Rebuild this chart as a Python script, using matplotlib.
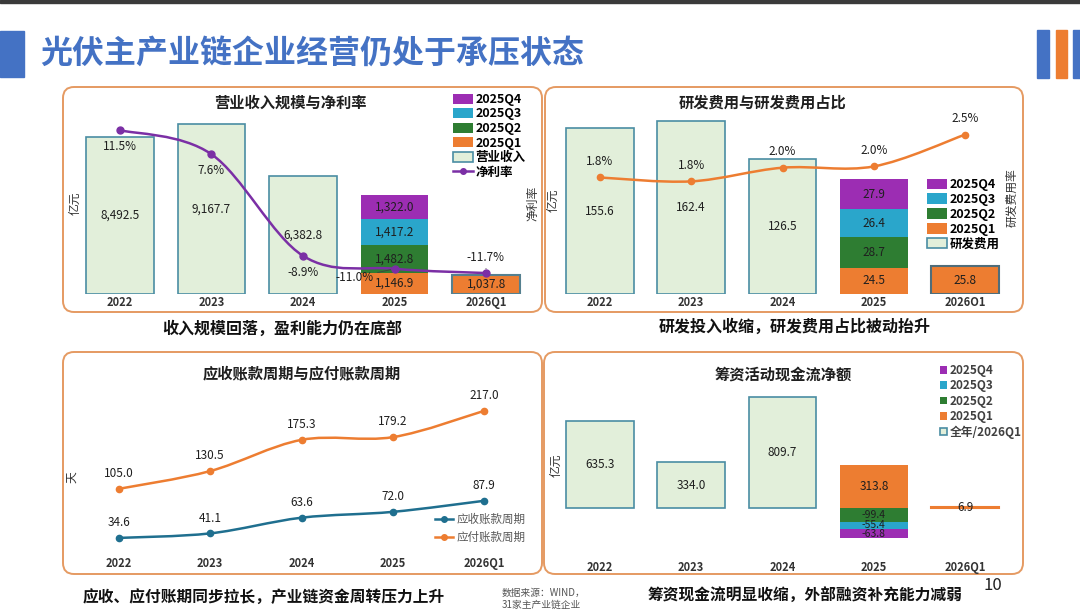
import numpy as np
import matplotlib
matplotlib.use("Agg")
import matplotlib.pyplot as plt
from matplotlib.patches import FancyBboxPatch, Rectangle, Patch, PathPatch
from matplotlib.lines import Line2D
from matplotlib.path import Path

plt.rcParams['font.family'] = ['Noto Sans CJK SC', 'DejaVu Sans']

W, H = 1080, 611

# ---- data ----
years = ['2022', '2023', '2024', '2025', '2026Q1']
years_rd = ['2022', '2023', '2024', '2025', '2026O1']
quarters = ['2025Q1', '2025Q2', '2025Q3', '2025Q4']

revenue_full = [8492.5, 9167.7, 6382.8]          # 亿元
revenue_q = [1146.9, 1482.8, 1417.2, 1322.0]     # 2025 Q1..Q4
revenue_2026q1 = 1037.8
net_margin = [11.5, 7.6, -8.9, -11.0, -11.7]     # %

rd_full = [155.6, 162.4, 126.5]
rd_q = [24.5, 28.7, 26.4, 27.9]
rd_2026q1 = 25.8
rd_ratio = [1.84, 1.78, 1.99, 2.01, 2.50]

ar_days = [34.6, 41.1, 63.6, 72.0, 87.9]
ap_days = [105.0, 130.5, 175.3, 179.2, 217.0]

fin_full = [635.3, 334.0, 809.7]
fin_q = [313.8, -99.4, -55.4, -63.8]
fin_2026q1 = 6.9

# ---- colours ----
C_FILL = '#E2EFDA'
C_EDGE = '#4A8DA3'
C_Q = ['#ED7D31', '#2E7D32', '#2AA6CB', '#9C2DB3']
C_PURPLE = '#7B2FA5'
C_ORANGE = '#ED7D31'
C_BLUE = '#1F6F8F'
C_BORDER = '#E59A62'
C_TXT = '#1f1f1f'

fig = plt.figure(figsize=(W / 100, H / 100), dpi=100)
fig.patch.set_facecolor('white')

bg = fig.add_axes([0, 0, 1, 1], zorder=-1)
bg.set_xlim(0, W)
bg.set_ylim(H, 0)
bg.axis('off')


def px_axes(x0, y0, x1, y1):
    ax = fig.add_axes([x0 / W, 1 - y1 / H, (x1 - x0) / W, (y1 - y0) / H])
    ax.set_facecolor('none')
    for s in ax.spines.values():
        s.set_visible(False)
    ax.set_yticks([])
    return ax


def style_x(ax, labels, pad):
    ax.set_xticks(np.arange(len(labels)), labels)
    ax.tick_params(axis='x', length=0, pad=pad, labelsize=8, labelcolor='#333333')
    for t in ax.get_xticklabels():
        t.set_fontweight('bold')
    ax.set_xlim(-0.5, len(labels) - 0.5)


def clean_twin(ax):
    for s in ax.spines.values():
        s.set_visible(False)
    ax.set_yticks([])


def smooth_line(ax, xs, ys, color, lw):
    # bezier curve through the points (Excel style smoothed line)
    pts = np.column_stack([xs, ys]).astype(float)
    ext = np.vstack([pts[0], pts, pts[-1]])
    verts = [pts[0]]
    codes = [Path.MOVETO]
    for i in range(len(pts) - 1):
        p0, p1, p2, p3 = ext[i], ext[i + 1], ext[i + 2], ext[i + 3]
        verts += [p1 + (p2 - p0) / 6, p2 - (p3 - p1) / 6, p2]
        codes += [Path.CURVE4] * 3
    ax.add_patch(PathPatch(Path(verts, codes), fc='none', ec=color, lw=lw, zorder=3))


def stacked(ax, xpos, vals, width, fmt, fs=8.5):
    pos, neg = 0.0, 0.0
    for v, c in zip(vals, C_Q):
        if v >= 0:
            b = pos
            pos += v
        else:
            b = neg
            neg += v
        ax.bar(xpos, v, bottom=b, width=width, color=c, lw=0)
        ax.text(xpos, b + v / 2, fmt.format(v), ha='center', va='center',
                fontsize=fs if v >= 0 else fs - 1, color=C_TXT)


def label_bars(ax, xs, vals, fmt):
    for x, v in zip(xs, vals):
        ax.text(x, v / 2, fmt.format(v), ha='center', va='center', fontsize=8.5, color=C_TXT)


# ---- header ----
bg.add_patch(Rectangle((0, 0), W, 2.5, color='#3a3a3a'))
bg.add_patch(Rectangle((0, 31), 24, 46, color='#4472C4'))
bg.add_patch(Rectangle((1037, 30), 12, 48, color='#4472C4'))
bg.add_patch(Rectangle((1056, 30), 11, 48, color=C_ORANGE))
bg.add_patch(Rectangle((1073, 30), 7, 48, color='#4472C4'))
bg.text(40, 54, '光伏主产业链企业经营仍处于承压状态', fontsize=23, fontweight='heavy',
        color='#4472C4', ha='left', va='center')

# panel frames
for (x0, y0, x1, y1) in [(63, 87, 542, 312), (545, 87, 1023, 312),
                         (63, 352, 542, 574), (544, 352, 1023, 574)]:
    bg.add_patch(FancyBboxPatch((x0, y0), x1 - x0, y1 - y0,
                                boxstyle='round,pad=0,rounding_size=11',
                                fc='none', ec=C_BORDER, lw=1.4))

# panel titles / captions
bg.text(290, 103, '营业收入规模与净利率', fontsize=11, fontweight='bold', ha='center', va='center', color=C_TXT)
bg.text(763, 103, '研发费用与研发费用占比', fontsize=11, fontweight='bold', ha='center', va='center', color=C_TXT)
bg.text(302, 374, '应收账款周期与应付账款周期', fontsize=11, fontweight='bold', ha='center', va='center', color=C_TXT)
bg.text(783, 375, '筹资活动现金流净额', fontsize=11, fontweight='bold', ha='center', va='center', color=C_TXT)

bg.text(282, 329, '收入规模回落，盈利能力仍在底部', fontsize=11.5, fontweight='bold', ha='center', va='center', color='#111111')
bg.text(795, 327, '研发投入收缩，研发费用占比被动抬升', fontsize=11.5, fontweight='bold', ha='center', va='center', color='#111111')
bg.text(264, 597, '应收、应付账期同步拉长，产业链资金周转压力上升', fontsize=11.3, fontweight='bold', ha='center', va='center', color='#111111')
bg.text(805, 596, '筹资现金流明显收缩，外部融资补充能力减弱', fontsize=11.3, fontweight='bold', ha='center', va='center', color='#111111')
bg.text(502, 593, '数据来源：WIND，', fontsize=7, ha='left', va='center', color='#555555')
bg.text(502, 605, '31家主产业链企业', fontsize=7, ha='left', va='center', color='#555555')
bg.text(993, 585, '10', fontsize=12, ha='center', va='center', color='#222222')

# axis titles
bg.text(75, 203, '亿元', fontsize=8.5, rotation=90, ha='center', va='center', color='#333333')
bg.text(533, 203, '净利率', fontsize=8.5, rotation=90, ha='center', va='center', color='#333333')
bg.text(553, 200, '亿元', fontsize=8.5, rotation=90, ha='center', va='center', color='#333333')
bg.text(1012, 198, '研发费用率', fontsize=8.5, rotation=90, ha='center', va='center', color='#333333')
bg.text(72, 477, '天', fontsize=8.5, rotation=90, ha='center', va='center', color='#333333')
bg.text(556, 465, '亿元', fontsize=8.5, rotation=90, ha='center', va='center', color='#333333')

x = np.arange(len(years))
bw = 0.74

# ---- panel 1: revenue & net margin ----
ax1 = px_axes(74, 100, 532, 294)
ax1.bar(x[:3], revenue_full, width=bw, color=C_FILL, edgecolor=C_EDGE, lw=1.2)
label_bars(ax1, x[:3], revenue_full, '{:,.1f}')
stacked(ax1, 3, revenue_q, bw, '{:,.1f}')
ax1.bar(4, revenue_2026q1, width=bw, color=C_ORANGE, edgecolor='#55808F', lw=1.5)
ax1.text(4, revenue_2026q1 / 2, f'{revenue_2026q1:,.1f}', ha='center', va='center', fontsize=8.5, color=C_TXT)
ax1.set_ylim(0, 10486)
style_x(ax1, years, 1.5)

ax1b = ax1.twinx()
ax1b.set_ylim(-15.1, 16.4)
clean_twin(ax1b)
smooth_line(ax1b, x, net_margin, C_PURPLE, 1.8)
ax1b.plot(x, net_margin, 'o', color=C_PURPLE, ms=5, zorder=4)
offs = [(0, -12), (0, -12), (0, -12), (-29, -6.5), (-0.5, 11)]
for i, (v, o) in enumerate(zip(net_margin, offs)):
    arrow = dict(arrowstyle='-', color='#404040', lw=0.6, shrinkA=1, shrinkB=3) if i >= 3 else None
    ax1b.annotate(f'{v:.1f}%', (i, v), xytext=o, textcoords='offset points',
                  ha='center', va='center', fontsize=8.5, color=C_TXT, arrowprops=arrow)

h1 = [Patch(fc=C_Q[3]), Patch(fc=C_Q[2]), Patch(fc=C_Q[1]), Patch(fc=C_Q[0]),
      Patch(fc=C_FILL, ec=C_EDGE, lw=1.2),
      Line2D([], [], color=C_PURPLE, marker='o', ms=4, lw=1.8)]
l1 = ['2025Q4', '2025Q3', '2025Q2', '2025Q1', '营业收入', '净利率']
leg = fig.legend(h1, l1, loc='upper left', bbox_to_anchor=(453 / W, 1 - 93 / H),
                 frameon=False, fontsize=9, handlelength=1.6, handleheight=0.9,
                 handletextpad=0.2, labelspacing=0.12, borderpad=0, borderaxespad=0)
for t in leg.get_texts():
    t.set_fontweight('bold')

# ---- panel 2: R&D ----
ax2 = px_axes(554, 100, 1011, 294)
ax2.bar(x[:3], rd_full, width=bw, color=C_FILL, edgecolor=C_EDGE, lw=1.2)
label_bars(ax2, x[:3], rd_full, '{:.1f}')
stacked(ax2, 3, rd_q, bw, '{:.1f}')
ax2.bar(4, rd_2026q1, width=bw, color=C_ORANGE, edgecolor='#4F6D7A', lw=1.5)
ax2.text(4, rd_2026q1 / 2, f'{rd_2026q1:.1f}', ha='center', va='center', fontsize=8.5, color=C_TXT)
ax2.set_ylim(0, 182)
style_x(ax2, years_rd, 1.5)

ax2b = ax2.twinx()
ax2b.set_ylim(0.05, 3.03)
clean_twin(ax2b)
smooth_line(ax2b, x, rd_ratio, C_ORANGE, 1.8)
ax2b.plot(x, rd_ratio, 'o', color=C_ORANGE, ms=4.5, zorder=4)
for i, v in enumerate(rd_ratio):
    ax2b.annotate(f'{v:.1f}%', (i, v), xytext=(0, 11.5), textcoords='offset points',
                  ha='center', va='center', fontsize=8.5, color=C_TXT)

h2 = [Patch(fc=C_Q[3]), Patch(fc=C_Q[2]), Patch(fc=C_Q[1]), Patch(fc=C_Q[0]),
      Patch(fc=C_FILL, ec=C_EDGE, lw=1.2)]
l2 = ['2025Q4', '2025Q3', '2025Q2', '2025Q1', '研发费用']
leg = fig.legend(h2, l2, loc='upper left', bbox_to_anchor=(927 / W, 1 - 178 / H),
                 frameon=False, fontsize=9, handlelength=1.6, handleheight=0.9,
                 handletextpad=0.2, labelspacing=0.15, borderpad=0, borderaxespad=0)
for t in leg.get_texts():
    t.set_fontweight('bold')

# ---- panel 3: receivable / payable days ----
ax3 = px_axes(73, 385, 530, 552)
smooth_line(ax3, x, ar_days, C_BLUE, 1.8)
smooth_line(ax3, x, ap_days, C_ORANGE, 1.8)
ax3.plot(x, ar_days, 'o', color=C_BLUE, ms=4.5, zorder=4)
ax3.plot(x, ap_days, 'o', color=C_ORANGE, ms=4.5, zorder=4)
for series in (ar_days, ap_days):
    for i, v in enumerate(series):
        ax3.annotate(f'{v:.1f}', (i, v), xytext=(0, 11), textcoords='offset points',
                     ha='center', va='center', fontsize=8.5, color=C_TXT)
ax3.set_ylim(14.4, 254)
style_x(ax3, years, 3.5)
h3 = [Line2D([], [], color=C_BLUE, marker='o', ms=4, lw=1.8),
      Line2D([], [], color=C_ORANGE, marker='o', ms=4, lw=1.8)]
fig.legend(h3, ['应收账款周期', '应付账款周期'], loc='upper left',
           bbox_to_anchor=(435 / W, 1 - 513 / H), frameon=False, fontsize=8.3,
           labelcolor='#595959', handlelength=1.6, handletextpad=0.25,
           labelspacing=0.45, borderpad=0, borderaxespad=0)

# ---- panel 4: financing cash flow ----
ax4 = px_axes(554, 365, 1011, 560)
ax4.bar(x[:3], fin_full, width=bw, color=C_FILL, edgecolor=C_EDGE, lw=1.2)
label_bars(ax4, x[:3], fin_full, '{:.1f}')
stacked(ax4, 3, fin_q, bw, '{:.1f}')
ax4.bar(4, fin_2026q1, width=bw, color=C_ORANGE, edgecolor=C_ORANGE, lw=1.5)
ax4.text(4, fin_2026q1 / 2, f'{fin_2026q1:.1f}', ha='center', va='center', fontsize=8.5, color=C_TXT)
ax4.set_ylim(-380, 1044)
style_x(ax4, years, 0.5)

h4 = [Patch(fc=C_Q[3]), Patch(fc=C_Q[2]), Patch(fc=C_Q[1]), Patch(fc=C_Q[0]),
      Patch(fc=C_FILL, ec=C_EDGE, lw=1.2)]
l4 = ['2025Q4', '2025Q3', '2025Q2', '2025Q1', '全年/2026Q1']
leg = fig.legend(h4, l4, loc='upper left', bbox_to_anchor=(940 / W, 1 - 364 / H),
                 frameon=False, fontsize=8.5, labelcolor='#404040',
                 handlelength=0.6, handleheight=0.6, handletextpad=0.25,
                 labelspacing=0.2, borderpad=0, borderaxespad=0)
for t in leg.get_texts():
    t.set_fontweight('bold')

fig.savefig('out.png', dpi=100)
